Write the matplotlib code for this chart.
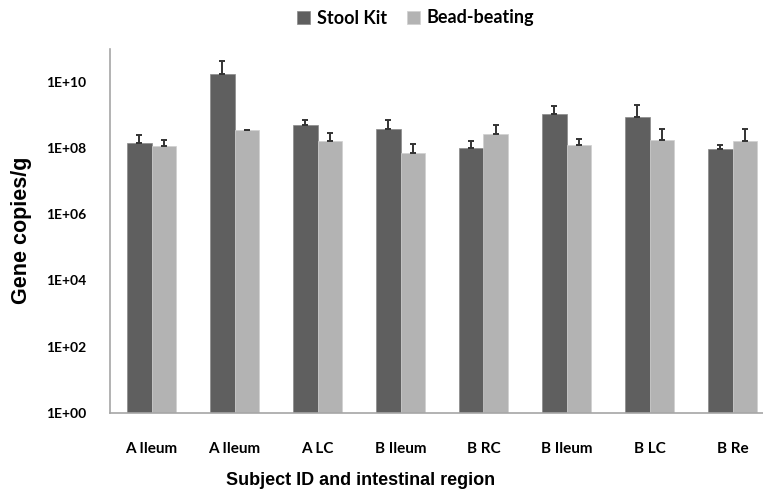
import matplotlib as mpl
mpl.use('Agg')

import matplotlib.pyplot as plt
import numpy as np

# DATA
regions = ["A Ileum", "A Ileum", "A LC", "B Ileum", "B RC", "B Ileum", "B LC", "B Re"]
stool = [1.45e8, 1.78e10, 4.9e8, 3.8e8, 1.02e8, 1.07e9, 8.9e8, 9.1e7]
stool_err = [1.05e8, 2.42e10, 2.3e8, 3.1e8, 6.4e7, 7.6e8, 1.07e9, 3.2e7]
bead = [1.15e8, 3.45e8, 1.66e8, 7.2e7, 2.7e8, 1.23e8, 1.78e8, 1.66e8]
bead_err = [6.5e7, 1.5e7, 1.24e8, 6.3e7, 2.4e8, 6.4e7, 2.02e8, 2.14e8]
yticks = [1e0, 1e2, 1e4, 1e6, 1e8, 1e10]
ytick_labels = ["1E+00", "1E+02", "1E+04", "1E+06", "1E+08", "1E+10"]

dark = "#5f5f5f"
light = "#b3b3b3"

fig = plt.figure(figsize=(7.63, 4.95), dpi=100)
# axes runs past right edge of the picture, like the cropped original
ax = fig.add_axes([110 / 763, 82.3 / 495, 664 / 763, 364 / 495])

x = np.arange(len(regions))
w = 0.29
zeros = np.zeros(len(regions))

ax.bar(x - w / 2, stool, w, color=dark, edgecolor="#8a8a8a", linewidth=0.5,
       label="Stool Kit", yerr=[zeros, stool_err],
       error_kw=dict(ecolor="#333333", elinewidth=1.4, capsize=2.2, capthick=1.4))
ax.bar(x + w / 2, bead, w, color=light, edgecolor="#d0d0d0", linewidth=0.5,
       label="Bead-beating", yerr=[zeros, bead_err],
       error_kw=dict(ecolor="#333333", elinewidth=1.4, capsize=2.2, capthick=1.4))

ax.set_yscale("log")
ax.set_ylim(1, 1e11)
ax.set_xlim(-0.5, 7.5)
ax.minorticks_off()
ax.set_yticks(yticks)
ax.set_yticklabels(ytick_labels, family="Lato", weight="bold", size=10)
ax.set_xticks(x)
ax.set_xticklabels(regions, family="Lato", weight="bold", size=11)
ax.tick_params(axis="y", length=0, pad=17)
ax.tick_params(axis="x", length=0, pad=21)

for s in ["top", "right"]:
    ax.spines[s].set_visible(False)
for s in ["left", "bottom"]:
    ax.spines[s].set_color("#a6a6a6")
    ax.spines[s].set_linewidth(1.2)

ax.set_ylabel("Gene copies/g", family="Liberation Sans", weight="bold", size=15.5)
ax.yaxis.set_label_coords((32 - 110) / 664, 0.5)
ax.set_xlabel("Subject ID and intestinal region", family="Liberation Sans",
              weight="bold", size=13)
ax.xaxis.set_label_coords((361 - 110) / 664, -(472 - 412.7) / 364)

fig.legend(loc="center", bbox_to_anchor=(415.5 / 763, 1 - 18 / 495), ncol=2,
           frameon=False, handlelength=0.75, handleheight=0.75,
           handletextpad=0.35, columnspacing=1.1,
           prop=dict(family="Lato", weight="bold", size=13))

plt.savefig("out.png", dpi=100)
